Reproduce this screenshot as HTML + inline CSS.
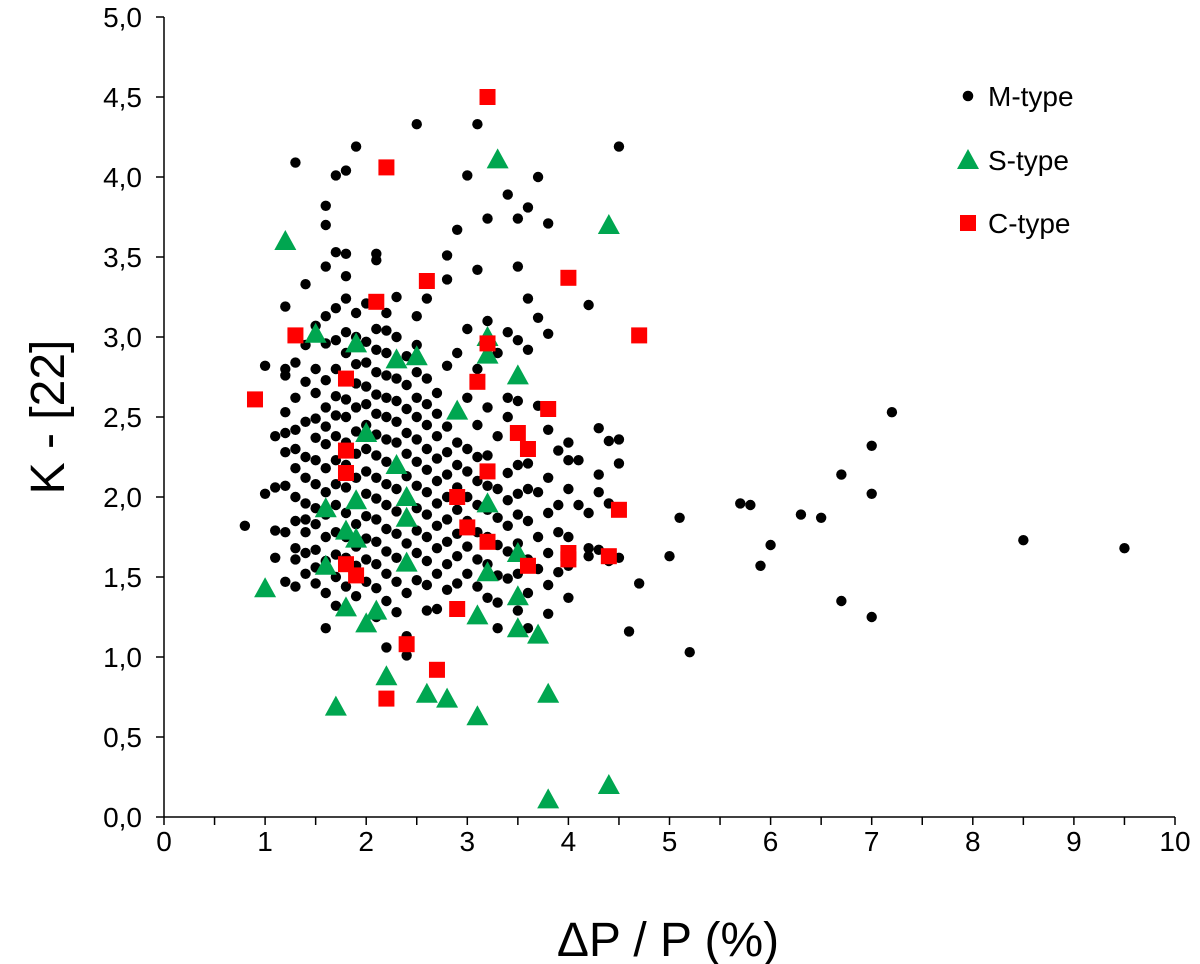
<!DOCTYPE html>
<html><head><meta charset="utf-8"><style>
html,body{margin:0;padding:0;background:#fff;}
svg{display:block;font-family:"Liberation Sans",sans-serif;}
</style></head><body>
<svg id="chart" width="1200" height="964" viewBox="0 0 1200 964" xmlns="http://www.w3.org/2000/svg">
<g id="axes"></g>
<g id="marks"></g>
<g>
  <circle cx="968" cy="96" r="5.3" fill="#000"/>
  <text x="988" y="106" font-size="28">M-type</text>
  <polygon points="968,149 979,169 957,169" fill="#00a650"/>
  <text x="988" y="170" font-size="28">S-type</text>
  <rect x="960" y="215" width="16" height="16" fill="#ff0000"/>
  <text x="988" y="233" font-size="28">C-type</text>
</g>
<text transform="translate(64,417) rotate(-90)" text-anchor="middle" font-size="48">K - [22]</text>
<text x="668" y="956" text-anchor="middle" font-size="48">ΔP / P (%)</text>
</svg>
<script>
const xTicks=[0,1,2,3,4,5,6,7,8,9,10];
const yTicks=[0,0.5,1,1.5,2,2.5,3,3.5,4,4.5,5];
const yTickLabels=["0,0","0,5","1,0","1,5","2,0","2,5","3,0","3,5","4,0","4,5","5,0"];
const mColumns=[
[0.8,[1.82]],
[1.0,[2.02,2.82]],
[1.1,[1.62,1.79,2.06,2.38]],
[1.2,[1.47,1.78,2.07,2.28,2.40,2.53,2.76,2.80,3.19]],
[1.3,[1.44,1.61,1.68,1.85,2.00,2.18,2.30,2.42,2.62,2.84,4.09]],
[1.4,[1.52,1.65,1.78,1.86,1.96,2.12,2.25,2.47,2.72,2.95,3.33]],
[1.5,[1.46,1.56,1.67,1.83,1.93,2.08,2.23,2.37,2.49,2.65,2.80,3.07]],
[1.6,[1.18,1.40,1.60,1.75,1.89,2.03,2.18,2.33,2.44,2.56,2.73,2.96,3.13,3.44,3.70,3.82]],
[1.7,[1.32,1.50,1.64,1.78,1.95,2.08,2.23,2.38,2.51,2.63,2.80,2.98,3.18,3.53,4.01]],
[1.8,[1.44,1.62,1.75,1.90,2.06,2.20,2.34,2.50,2.61,2.74,2.90,3.03,3.24,3.38,3.52,4.04]],
[1.9,[1.38,1.57,1.69,1.83,1.97,2.12,2.27,2.41,2.56,2.71,2.83,3.00,3.15,4.19]],
[2.0,[1.47,1.61,1.74,1.88,2.02,2.16,2.30,2.45,2.58,2.69,2.84,2.97,3.21]],
[2.1,[1.25,1.43,1.58,1.72,1.86,1.99,2.12,2.26,2.39,2.52,2.64,2.78,2.92,3.05,3.48,3.52]],
[2.2,[1.06,1.35,1.52,1.66,1.80,1.95,2.08,2.22,2.36,2.50,2.62,2.76,2.90,3.04,3.15]],
[2.3,[1.28,1.47,1.62,1.77,1.91,2.05,2.19,2.34,2.47,2.60,2.74,3.00,3.25]],
[2.4,[1.01,1.13,1.40,1.57,1.71,1.85,1.99,2.13,2.27,2.40,2.55,2.70,2.88]],
[2.5,[1.48,1.65,1.79,1.93,2.07,2.22,2.36,2.50,2.62,2.78,2.95,3.13,4.33]],
[2.6,[1.29,1.45,1.60,1.75,1.89,2.03,2.17,2.30,2.45,2.58,2.74,3.24]],
[2.7,[1.30,1.52,1.68,1.82,1.96,2.10,2.24,2.38,2.52,2.65]],
[2.8,[1.42,1.58,1.72,1.86,2.00,2.14,2.28,2.44,2.82,3.36,3.51]],
[2.9,[1.30,1.46,1.63,1.77,1.92,2.06,2.20,2.34,2.52,2.90,3.67]],
[3.0,[1.52,1.69,1.85,2.00,2.16,2.30,2.62,3.05,4.01]],
[3.1,[1.25,1.44,1.61,1.78,1.95,2.10,2.25,2.45,2.80,3.42,4.33]],
[3.2,[1.37,1.58,1.75,1.92,2.07,2.26,2.56,3.10,3.74]],
[3.3,[1.18,1.34,1.51,1.70,1.87,2.05,2.38,2.90]],
[3.4,[1.49,1.66,1.82,1.98,2.15,2.50,2.62,3.03,3.89]],
[3.5,[1.29,1.52,1.71,1.89,2.02,2.20,2.60,2.98,3.44,3.74]],
[3.6,[1.18,1.40,1.61,1.85,2.05,2.21,2.92,3.24,3.81]],
[3.7,[1.55,1.75,2.03,2.57,3.12,4.00]],
[3.8,[1.27,1.45,1.65,1.90,2.12,2.42,3.02,3.71]],
[3.9,[1.53,1.78,1.95,2.29]],
[4.0,[1.37,1.57,1.75,2.05,2.23,2.34]],
[4.1,[1.95,2.23]],
[4.2,[1.63,1.68,1.90,3.20]],
[4.3,[1.67,2.03,2.14,2.43]],
[4.4,[1.60,1.96,2.35]],
[4.5,[1.62,2.21,2.36,4.19]],
[4.6,[1.16]],
[4.7,[1.46]],
[5.0,[1.63]],[5.1,[1.87]],[5.2,[1.03]],[5.7,[1.96]],[5.8,[1.95]],[5.9,[1.57]],[6.0,[1.70]],
[6.3,[1.89]],[6.5,[1.87]],[6.7,[2.14,1.35]],[7.0,[2.32,2.02,1.25]],[7.2,[2.53]],[8.5,[1.73]],[9.5,[1.68]]
];
const sX=[1.0,1.2,1.5,1.6,1.6,1.7,1.8,1.8,1.9,1.9,1.9,2.0,2.0,2.1,2.2,2.3,2.3,2.4,2.4,2.4,2.5,2.6,2.8,2.9,3.1,3.1,3.2,3.2,3.2,3.2,3.3,3.5,3.5,3.5,3.5,3.7,3.8,3.8,4.4,4.4];
const sY=[1.43,3.60,3.02,1.93,1.57,0.69,1.79,1.31,2.96,1.98,1.74,2.40,1.21,1.29,0.88,2.86,2.20,2.00,1.87,1.59,2.88,0.77,0.74,2.54,1.26,0.63,3.00,2.89,1.96,1.53,4.11,2.76,1.65,1.38,1.18,1.14,0.77,0.11,3.70,0.20];
const cX=[0.9,1.3,1.8,1.8,1.8,1.8,1.9,2.1,2.2,2.2,2.4,2.6,2.7,2.9,2.9,3.0,3.1,3.2,3.2,3.2,3.2,3.5,3.6,3.6,3.8,4.0,4.0,4.0,4.4,4.5,4.7];
const cY=[2.61,3.01,2.74,2.29,2.15,1.58,1.51,3.22,4.06,0.74,1.08,3.35,0.92,2.00,1.30,1.81,2.72,4.50,2.96,2.16,1.72,2.40,2.30,1.57,2.55,3.37,1.65,1.61,1.63,1.92,3.01];

const L=164,R=1175,T=17,B=817;
const xs=v=>L+(v-0)/(10-0)*(R-L);
const ys=v=>B-(v-0)/(5-0)*(B-T);
const NS="http://www.w3.org/2000/svg";
const axes=document.getElementById('axes'), marks=document.getElementById('marks');
function mk(tag,attrs,parent){const e=document.createElementNS(NS,tag);for(const k in attrs)e.setAttribute(k,attrs[k]);parent.appendChild(e);return e;}

let e=mk('line',{x1:L,y1:T,x2:L,y2:B,stroke:'#000','stroke-width':1.5},axes);


e=mk('line',{x1:L,y1:B,x2:R,y2:B,stroke:'#000','stroke-width':1.5},axes);


yTicks.forEach((v,i)=>{
  const t=mk('line',{x1:L-8,y1:ys(v),x2:L,y2:ys(v),stroke:'#000','stroke-width':1.5},axes);
  
  
  const l=mk('text',{x:L-22,y:ys(v)+10,'text-anchor':'end','font-size':28},axes);
  l.textContent=yTickLabels[i];
  
  
});
xTicks.forEach((v,i)=>{
  const t=mk('line',{x1:xs(v),y1:B,x2:xs(v),y2:B+8,stroke:'#000','stroke-width':1.5},axes);
  
  
  if(i<xTicks.length-1){
    const m=mk('line',{x1:xs(v+0.5),y1:B,x2:xs(v+0.5),y2:B+8,stroke:'#000','stroke-width':1.5},axes);
    
    
  }
  const l=mk('text',{x:xs(v),y:B+34,'text-anchor':'middle','font-size':28},axes);
  l.textContent=String(v);
  
  
});
mColumns.forEach(col=>{col[1].forEach(y=>{
  const c=mk('circle',{cx:xs(col[0]),cy:ys(y),r:5.2,fill:'#000'},marks);
  
  
});});
sX.forEach((x,i)=>{
  const cx=xs(x),cy=ys(sY[i]);
  const p=mk('polygon',{points:`${cx},${cy-11} ${cx+11},${cy+9} ${cx-11},${cy+9}`,fill:'#00a650'},marks);
  
  
});
cX.forEach((x,i)=>{
  const r=mk('rect',{x:xs(x)-8,y:ys(cY[i])-8,width:16,height:16,fill:'#ff0000'},marks);
  
  
});
</script>
</body></html>
